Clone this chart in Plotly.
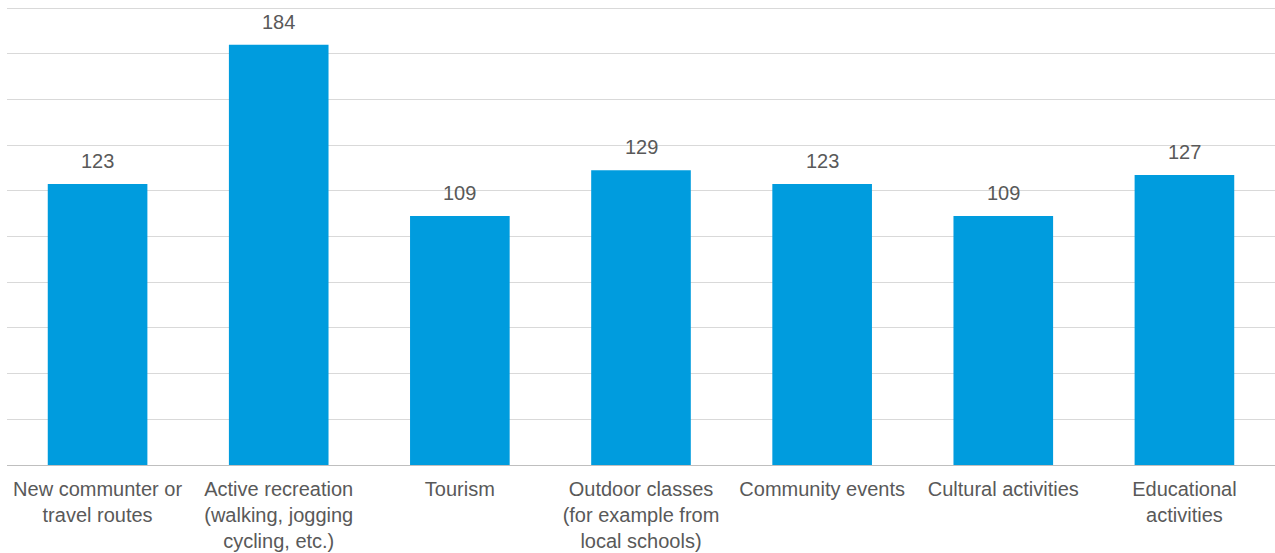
import plotly.graph_objects as go

categories = [
    "New communter or<br>travel routes",
    "Active recreation<br>(walking, jogging<br>cycling, etc.)",
    "Tourism",
    "Outdoor classes<br>(for example from<br>local schools)",
    "Community events",
    "Cultural activities",
    "Educational<br>activities",
]
values = [123, 184, 109, 129, 123, 109, 127]

bar_color = "#009CDE"
text_color = "#595959"
font_family = "Liberation Sans, Arial, sans-serif"

fig = go.Figure(
    go.Bar(
        x=categories,
        y=values,
        marker=dict(color=bar_color, line=dict(width=0)),
        hoverinfo="x+y",
    )
)

# Value labels above each bar
for cat, val in zip(categories, values):
    fig.add_annotation(
        x=cat, y=val, text=str(val), showarrow=False,
        yanchor="bottom", yshift=10,
        font=dict(family=font_family, size=20, color=text_color),
    )

fig.update_layout(
    width=1275, height=553,
    margin=dict(l=7, r=0, t=7, b=88),
    paper_bgcolor="white", plot_bgcolor="white",
    bargap=0.45,
    showlegend=False,
    font=dict(family=font_family, size=20, color=text_color),
)
fig.update_xaxes(
    showline=True, linecolor="#BFBFBF", linewidth=1,
    ticks="", tickfont=dict(size=20, color=text_color),
    ticklabelstandoff=6,
    showgrid=False,
)
fig.update_yaxes(
    range=[0, 200.5], tickvals=list(range(20, 201, 20)), showticklabels=False,
    showgrid=True, gridcolor="#D9D9D9", gridwidth=1,
    zeroline=False, fixedrange=True,
)

fig.write_html("out.html")
